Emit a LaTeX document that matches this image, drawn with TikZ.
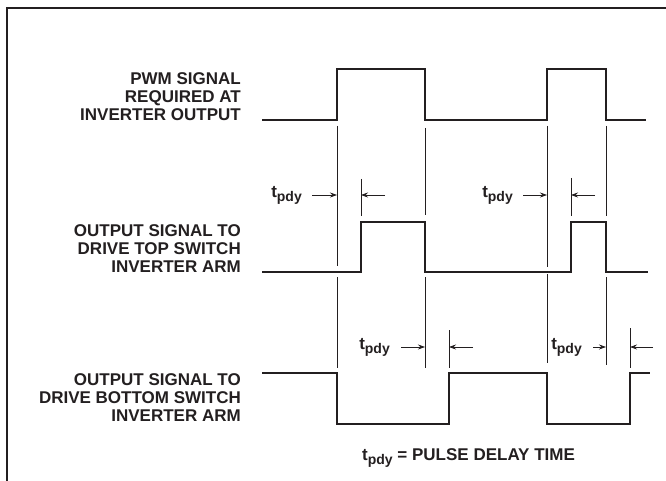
\documentclass[tikz,border=0pt]{standalone}
\usepackage{fontspec}
\setmainfont{Liberation Sans}
\usetikzlibrary{positioning,arrows.meta}
\definecolor{ink}{HTML}{231F20}
\newcommand{\tpdy}{t\raisebox{-4pt}{\fontsize{14}{14}\selectfont pdy}}

\begin{document}
\begin{tikzpicture}[x=1pt, y=-1pt,
    wave/.style = {draw=ink, line width=2.3pt},
    guide/.style = {draw=ink, line width=0.7pt},
    dly/.style = {draw=ink, line width=0.7pt, -{Stealth[length=7pt, width=5pt]}},
    lbl/.style = {anchor=east, align=right, inner sep=0pt, text=ink, font=\bfseries\fontsize{17}{18}\selectfont},
    tlbl/.style = {inner sep=0pt, text=ink, font=\bfseries\fontsize{17}{18}\selectfont}]
	\useasboundingbox (0,0) rectangle (666,481);
	\draw[ink, line width=2.5pt] (7,481) -- (7,8) -- (666,8);
	
	% signal names
	\node[lbl] (pwm) at (241,97) {PWM SIGNAL\\REQUIRED AT\\INVERTER OUTPUT};
	\node[lbl] (hi) at (241,249) {OUTPUT SIGNAL TO\\DRIVE TOP SWITCH\\INVERTER ARM};
	\node[lbl] (lo) at (241,398) {OUTPUT SIGNAL TO\\DRIVE BOTTOM SWITCH\\INVERTER ARM};
	
	% waveforms
	\draw[wave] (262,120) -- (337,120) -- (337,69) -- (425,69) -- (425,120) -- (547,120) -- (547,69) -- (606,69) -- (606,120) -- (646,120);
	\draw[wave] (262,272) -- (361,272) -- (361,222) -- (425,222) -- (425,272) -- (571,272) -- (571,222) -- (606,222) -- (606,272) -- (648,272);
	\draw[wave] (262,373) -- (337,373) -- (337,424) -- (449,424) -- (449,373) -- (547,373) -- (547,424) -- (630,424) -- (630,373) -- (650,373);
	
	% guide lines
	\draw[guide] (337,126) -- (337,266);
	\draw[guide] (337,277) -- (337,368);
	\draw[guide] (425,128) -- (425,215);
	\draw[guide] (425,277) -- (425,368);
	\draw[guide] (361,179) -- (361,216);
	\draw[guide] (547,126) -- (547,267);
	\draw[guide] (547,274) -- (547,363);
	\draw[guide] (606,126) -- (606,216);
	\draw[guide] (606,277) -- (606,365);
	\draw[guide] (571,178) -- (571,216);
	\draw[guide] (449,330) -- (449,368);
	\draw[guide] (630,328) -- (630,368);
	
	% delay marks
	\coordinate (a1) at (312,195);
	\coordinate (e1) at (337,195);
	\coordinate (b1) at (385,195);
	\coordinate (f1) at (361,195);
	\coordinate (a2) at (523,195);
	\coordinate (e2) at (547,195);
	\coordinate (b2) at (595,195);
	\coordinate (f2) at (571,195);
	\coordinate (a3) at (401,347);
	\coordinate (e3) at (425,347);
	\coordinate (b3) at (473,347);
	\coordinate (f3) at (449,347);
	\coordinate (a4) at (593,347);
	\coordinate (e4) at (606,347);
	\coordinate (b4) at (653,347);
	\coordinate (f4) at (630,347);
	\draw[dly] (a1) -- (e1);
	\draw[dly] (b1) -- (f1);
	\draw[dly] (a2) -- (e2);
	\draw[dly] (b2) -- (f2);
	\draw[dly] (a3) -- (e3);
	\draw[dly] (b3) -- (f3);
	\draw[dly] (a4) -- (e4);
	\draw[dly] (b4) -- (f4);
	\node[tlbl, left=10pt of a1] (t1) {\tpdy};
	\node[tlbl, left=10pt of a2] (t2) {\tpdy};
	\node[tlbl, left=11pt of a3] (t3) {\tpdy};
	\node[tlbl, left=11pt of a4] (t4) {\tpdy};
	
	\node[tlbl, anchor=base west] (key) at (362,460) {\tpdy{} = PULSE DELAY TIME};
\end{tikzpicture}
\end{document}
